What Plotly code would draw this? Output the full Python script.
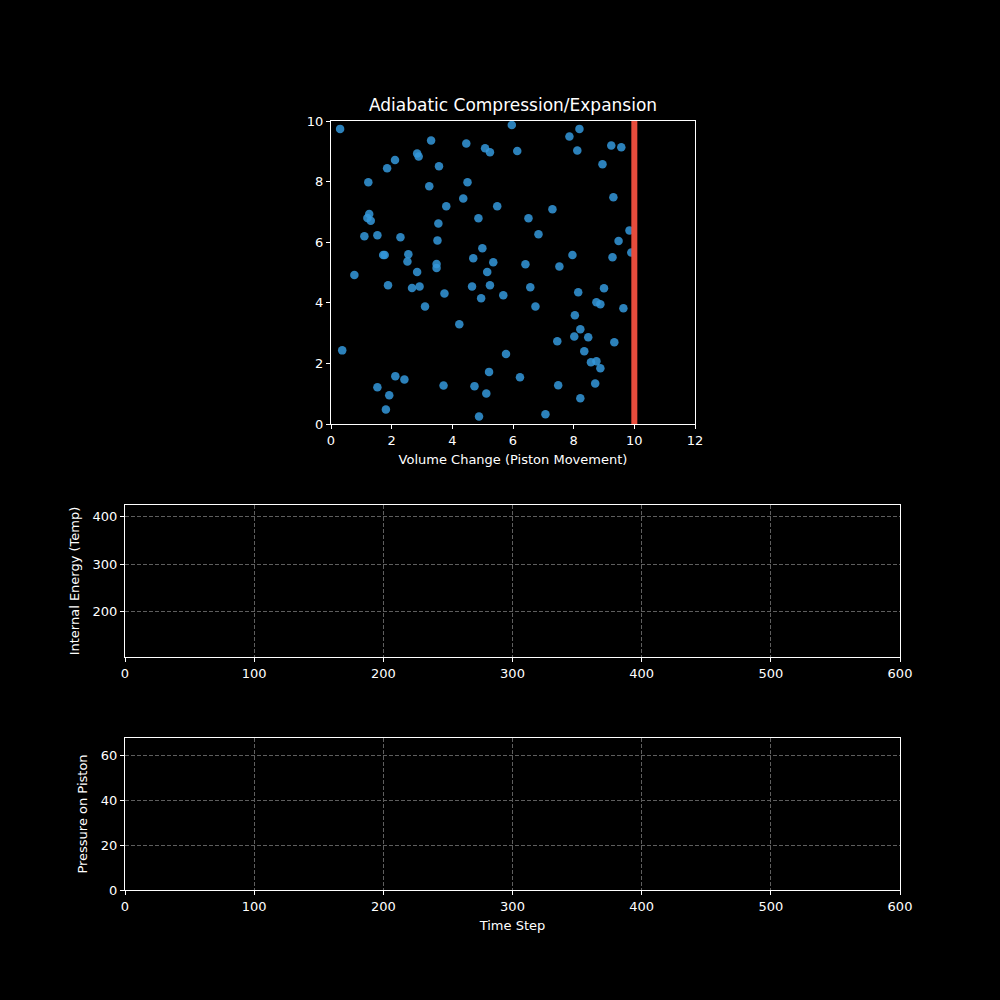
import plotly.graph_objects as go

# Particle positions (volume change vs. height)
particle_x = [0.30, 5.96, 3.30, 4.46, 5.08, 5.24, 2.11, 1.85, 2.84, 2.89,
              3.56, 1.23, 3.24, 4.50, 4.36, 3.80, 5.48, 1.26, 1.20, 1.31,
              3.54, 4.86, 1.10, 1.53, 2.29, 3.51, 1.72, 1.77, 2.55, 2.52,
              3.48, 3.48, 4.99, 4.69, 5.35, 0.77, 2.84, 5.15, 8.19, 7.86,
              6.14, 8.12, 9.24, 9.57, 8.95, 9.31, 7.30, 6.51, 6.84, 9.84,
              9.48, 9.90, 7.96, 9.28, 6.41, 7.53, 1.88, 2.67, 2.92, 3.74,
              3.10, 4.23, 4.65, 5.24, 4.95, 5.68, 0.37, 5.77, 5.21, 2.12,
              2.42, 1.53, 1.92, 1.81, 3.71, 4.73, 5.12, 4.88, 6.57, 8.15,
              9.00, 8.75, 8.88, 9.64, 6.74, 8.04, 8.22, 8.02, 8.48, 7.46,
              9.34, 8.35, 8.57, 8.75, 8.88, 6.23, 7.49, 8.71, 8.22, 7.07]
particle_y = [9.74, 9.87, 9.36, 9.26, 9.10, 8.97, 8.71, 8.44, 8.93, 8.83,
              8.51, 7.98, 7.85, 7.98, 7.44, 7.19, 7.19, 6.93, 6.80, 6.71,
              6.62, 6.79, 6.20, 6.23, 6.16, 6.06, 5.58, 5.58, 5.60, 5.36,
              5.28, 5.15, 5.80, 5.47, 5.34, 4.92, 5.02, 5.02, 9.74, 9.49,
              9.01, 9.03, 9.19, 9.13, 8.57, 7.48, 7.09, 6.79, 6.26, 6.39,
              6.04, 5.66, 5.58, 5.50, 5.27, 5.20, 4.58, 4.49, 4.54, 4.31,
              3.88, 3.29, 4.54, 4.58, 4.15, 4.25, 2.43, 2.31, 1.72, 1.58,
              1.47, 1.21, 0.95, 0.48, 1.27, 1.25, 1.01, 0.25, 4.51, 4.35,
              4.48, 4.02, 3.95, 3.82, 3.88, 3.59, 3.13, 2.89, 2.86, 2.73,
              2.70, 2.40, 2.04, 2.07, 1.84, 1.54, 1.28, 1.34, 0.85, 0.32]

# Piston position
piston_x = [10, 10]
piston_y = [0, 10]

# empty history series
time_steps = []
energy = []
pressure = []

fig = go.Figure()

fig.add_trace(go.Scatter(x=particle_x, y=particle_y, mode="markers",
                         marker=dict(size=8.5, color="rgba(52,152,219,0.85)", line=dict(width=0)),
                         xaxis="x", yaxis="y", showlegend=False))
fig.add_trace(go.Scatter(x=piston_x, y=piston_y, mode="lines",
                         line=dict(color="#e74c3c", width=6),
                         xaxis="x", yaxis="y", showlegend=False))
fig.add_trace(go.Scatter(x=time_steps, y=energy, mode="lines",
                         xaxis="x2", yaxis="y2", showlegend=False))
fig.add_trace(go.Scatter(x=time_steps, y=pressure, mode="lines",
                         xaxis="x3", yaxis="y3", showlegend=False))

axis_style = dict(showline=True, mirror=True, linecolor="white", linewidth=1,
                  ticks="outside", tickcolor="white", ticklen=4, tickwidth=1,
                  zeroline=False, color="white", automargin=False,
                  tickfont=dict(size=13, color="white"))
grid_style = dict(showgrid=True, gridcolor="#5e5e5e", griddash="4px,2px", gridwidth=1)

fig.update_layout(
    width=1000, height=1000,
    margin=dict(l=0, r=0, t=0, b=0),
    paper_bgcolor="black", plot_bgcolor="black",
    font=dict(family="DejaVu Sans", size=13, color="white"),
    title=dict(text="Adiabatic Compression/Expansion", x=0.513, xanchor="center",
               y=0.889, yanchor="bottom", font=dict(size=17, color="white")),
    xaxis=dict(domain=[0.331, 0.695], range=[0, 12], dtick=2, showgrid=False,
               anchor="y",
               title=dict(text="Volume Change (Piston Movement)", standoff=8,
                          font=dict(size=13)), **axis_style),
    yaxis=dict(domain=[0.576, 0.879], range=[0, 10], dtick=2, showgrid=False,
               anchor="x", **axis_style),
    xaxis2=dict(domain=[0.125, 0.900], range=[0, 600], dtick=100, anchor="y2",
                **grid_style, **axis_style),
    yaxis2=dict(domain=[0.343, 0.495], range=[105, 425], tickvals=[200, 300, 400],
                anchor="x2", title=dict(text="Internal Energy (Temp)", standoff=10,
                                        font=dict(size=13)),
                **grid_style, **axis_style),
    xaxis3=dict(domain=[0.125, 0.900], range=[0, 600], dtick=100, anchor="y3",
                title=dict(text="Time Step", standoff=8, font=dict(size=13)),
                **grid_style, **axis_style),
    yaxis3=dict(domain=[0.110, 0.262], range=[0, 68], dtick=20, anchor="x3",
                title=dict(text="Pressure on Piston", standoff=10, font=dict(size=13)),
                **grid_style, **axis_style),
)

fig.write_html("out.html", config={"displayModeBar": False},
               post_script="document.body.style.margin='0';"
               "document.body.style.background='black';"
               "document.body.style.overflow='hidden';")
